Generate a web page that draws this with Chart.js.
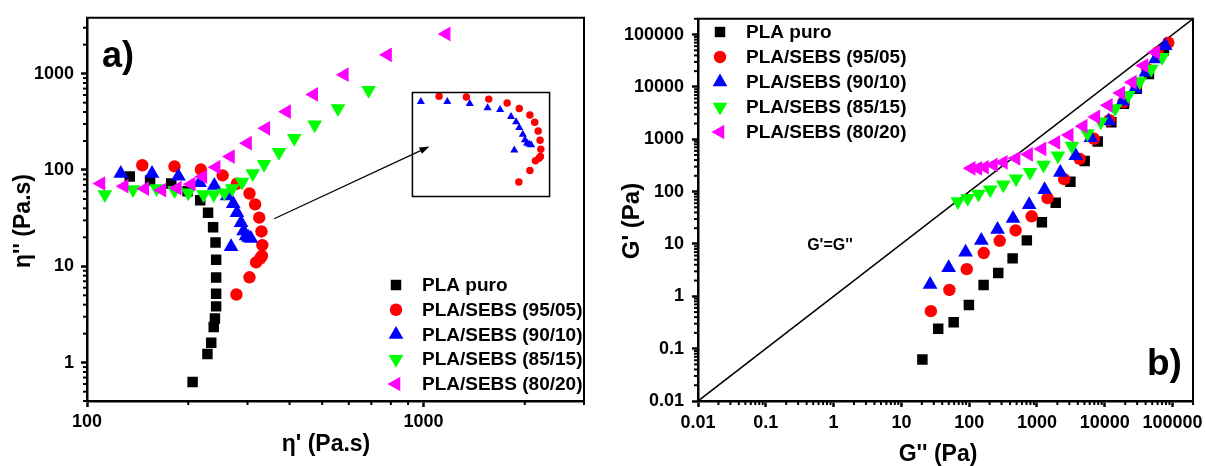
<!DOCTYPE html>
<html>
<head>
<meta charset="utf-8">
<script src="https://cdn.jsdelivr.net/npm/chart.js@4/dist/chart.umd.min.js"></script>
<style>
  html, body { margin: 0; padding: 0; background: #fff; }
  #wrap { position: relative; width: 1206px; height: 466px; overflow: hidden; background: #fff; }
  canvas { position: absolute; top: 0; }
</style>
</head>
<body>
<div id="wrap">
  <canvas id="cA" width="600" height="466" style="left:0px"></canvas>
  <canvas id="cB" width="606" height="466" style="left:600px"></canvas>
  <canvas id="cInset" width="148" height="115" style="left:407px; top:87px"></canvas>
</div>
<script>
// ---- series ----
const seriesLabels = ['PLA puro', 'PLA/SEBS (95/05)', 'PLA/SEBS (90/10)', 'PLA/SEBS (85/15)', 'PLA/SEBS (80/20)'];

// panel a) : eta' (x, Pa.s) and eta'' (y, Pa.s)
const etaP_PLA   = [206, 228, 234, 238, 240, 242, 242, 242, 242, 241, 237, 229, 217, 199, 178, 154, 134];
const etaPP_PLA  = [0.63, 1.23, 1.61, 2.35, 2.87, 3.84, 5.2, 7.65, 11.7, 17.7, 25.5, 36, 48.4, 60.3, 72.4, 77.8, 85.5];
const etaP_9505  = [278, 304, 318, 327, 331, 332, 330, 325, 316, 304, 279, 253, 218, 182, 146];
const etaPP_9505 = [5.1, 7.7, 11.0, 12.0, 12.8, 16.6, 23, 32, 44, 57, 72, 88, 101, 109, 112];
const etaP_9010  = [268, 307, 302, 297, 292, 287, 279, 272, 261, 239, 216, 187, 156, 126];
const etaPP_9010 = [16, 19.4, 19.9, 20.7, 23.3, 28.4, 36, 44.6, 53.6, 69, 73.5, 86, 92, 92];
const etaP_8515  = [113, 137, 161, 182, 200, 222, 238, 256, 270, 289, 311, 336, 372, 413, 475, 557, 687];
const etaPP_8515 = [55.8, 62.8, 64.3, 61.3, 57.9, 55.8, 55.8, 57.9, 64.3, 75.2, 91.8, 115, 153, 214, 294, 436, 674];
const etaP_8020  = [110, 129, 148.5, 167, 185.5, 204, 221, 242, 267, 300, 340, 392, 472, 582, 782, 1168];
const etaPP_8020 = [72.4, 67.9, 64, 61.8, 64.8, 71.2, 85.1, 107, 138, 190, 271, 403, 608, 977, 1570, 2584];

// panel b) : G'' (x, Pa) and G' (y, Pa)
const gPP_PLA  = [20.4, 34.9, 59, 99, 163, 268, 437, 708, 1180, 1890, 3110, 5050, 7870, 12500, 19200, 29600, 44800, 74500];
const gP_PLA   = [0.062, 0.24, 0.32, 0.68, 1.64, 2.8, 5.3, 11.7, 26, 61.5, 154, 385, 908, 2120, 4780, 9200, 17700, 49900];
const gPP_9505 = [27.2, 51, 92, 164, 282, 484, 834, 1430, 2520, 4260, 6920, 11650, 18900, 29150, 42100, 60000, 86500];
const gP_9505  = [0.52, 1.32, 3.3, 6.7, 11.5, 18.1, 33.8, 75, 173, 421, 1020, 2310, 5150, 10670, 22000, 45700, 69800];
const gPP_9010 = [26.5, 49.8, 88.5, 151, 262, 443, 766, 1295, 2210, 3730, 6220, 11370, 18450, 28000, 40500, 56100, 77800];
const gP_9010  = [1.68, 3.53, 6.93, 11.7, 18.9, 30.6, 56.4, 109, 231, 486, 1070, 2240, 5310, 9200, 19100, 34100, 61200];
const gPP_8515 = [68, 95, 137, 204, 319, 491, 789, 1250, 2040, 3270, 5550, 8730, 14150, 22200, 32700, 48400, 70300];
const gP_8515  = [65, 75, 90, 109, 135, 176, 234, 324, 486, 743, 1290, 2150, 3850, 6900, 12700, 22000, 36700];
const gPP_8020 = [107, 134, 168, 228, 319, 491, 752, 1185, 1900, 2990, 4800, 7380, 11300, 17200, 25500, 37800, 56200];
const gP_8020  = [279, 279, 292, 324, 363, 432, 515, 652, 869, 1200, 1780, 2670, 4460, 7620, 12300, 25600, 45700];

// ---- axes ----
const aXRange = [100, 3000];
const aYRange = [0.4, 3800];
const aXTicks = [100, 1000];
const aXTickLabels = ['100', '1000'];
const aYTicks = [1, 10, 100, 1000];
const aYTickLabels = ['1', '10', '100', '1000'];

const bRange = [0.01, 200000];
const bTicks = [0.01, 0.1, 1, 10, 100, 1000, 10000, 100000];
const bTickLabels = ['0.01', '0.1', '1', '10', '100', '1000', '10000', '100000'];

const insetXRange = [117, 358.5];
const insetYRange = [2.94, 132];

// ---- styling ----
const FAMILY = "'Liberation Sans', Arial, Helvetica, sans-serif";
const colors = ['#000000', '#ff0000', '#0000ff', '#00ff00', '#ff00ff'];
const shapes = ['rect', 'circle', 'triangle', 'triangle', 'triangle'];
const rotations = [0, 0, 0, 180, -90];
const radii = [7.4, 6.2, 8.5, 8.5, 8.5];

function pts(xs, ys) { return xs.map((x, k) => ({ x: x, y: ys[k] })); }

function series(xs, ys, i, scale) {
  const r = radii[i] * (scale || 1);
  return {
    label: seriesLabels[i],
    data: pts(xs, ys),
    showLine: false,
    pointStyle: shapes[i],
    pointRotation: rotations[i],
    pointRadius: r,
    pointHoverRadius: r,
    backgroundColor: colors[i],
    pointBackgroundColor: colors[i],
    borderColor: colors[i],
    pointBorderWidth: 0,
    borderWidth: 0,
    order: 5 - i
  };
}

function isMajor(v, majors) { return majors.some(m => Math.abs(m - v) <= m * 1e-9); }

function makeTicks(min, max, majors) {
  const out = [];
  const e0 = Math.floor(Math.log10(min)), e1 = Math.ceil(Math.log10(max));
  for (let e = e0; e <= e1; e++) {
    for (let d = 1; d <= 9; d++) {
      const v = parseFloat((d * Math.pow(10, e)).toPrecision(6));
      if (v >= min * 0.999999 && v <= max * 1.000001) out.push({ value: v, major: isMajor(v, majors) });
    }
  }
  return out;
}

function labeler(majors, labels) {
  return function (v) {
    const i = majors.findIndex(m => Math.abs(m - v) <= m * 1e-9);
    return i < 0 ? '' : labels[i];
  };
}

const majorTickColor = (c) => (c.tick && c.tick.major) ? '#000' : 'rgba(0,0,0,0)';

function logAxis(pos, range, majors, labels, fitSize, pad) {
  return {
    type: 'logarithmic',
    position: pos,
    min: range[0],
    max: range[1],
    afterBuildTicks: (s) => { s.ticks = makeTicks(range[0], range[1], majors); },
    afterFit: (s) => { if (pos === 'bottom') s.height = fitSize; else s.width = fitSize; },
    ticks: {
      autoSkip: false, maxRotation: 0, minRotation: 0, padding: pad,
      color: '#000',
      font: { family: FAMILY, size: 18, weight: 'bold' },
      callback: labeler(majors, labels)
    },
    grid: {
      display: true, drawOnChartArea: false, drawTicks: true,
      tickLength: 6, tickWidth: 2.5, tickColor: majorTickColor
    },
    border: { display: true, width: 2.5, color: '#000' },
    title: { display: false }
  };
}

function drawMarker(ctx, style, r, rotDeg, x, y) {
  ctx.beginPath();
  if (style === 'circle') {
    ctx.arc(x, y, r, 0, 2 * Math.PI);
  } else if (style === 'rect') {
    const s = r * Math.SQRT1_2;
    ctx.rect(x - s, y - s, 2 * s, 2 * s);
  } else {
    let rad = rotDeg * Math.PI / 180;
    for (let k = 0; k < 3; k++) {
      const px = x + Math.sin(rad) * r, py = y - Math.cos(rad) * r;
      if (k) ctx.lineTo(px, py); else ctx.moveTo(px, py);
      rad += 2 * Math.PI / 3;
    }
    ctx.closePath();
  }
  ctx.fill();
}

// frame, minor ticks, legend, arrow and free text
const decor = {
  id: 'decor',
  afterDraw(chart, args, o) {
    const ctx = chart.ctx, a = chart.chartArea;
    ctx.save();
    ctx.strokeStyle = '#000';
    ctx.fillStyle = '#000';
    if (o.frame) {
      ctx.lineWidth = o.frame;
      ctx.beginPath();
      if (o.frameAll) {
        ctx.rect(a.left + o.frame / 2, a.top + o.frame / 2, a.right - a.left - o.frame, a.bottom - a.top - o.frame);
      } else {
        ctx.moveTo(a.left - 1, a.top);
        ctx.lineTo(a.right, a.top);
        ctx.lineTo(a.right, a.bottom + 1);
      }
      ctx.stroke();
    }
    if (o.minorTicks) {
      ctx.lineWidth = 2;
      ['x', 'y'].forEach(id => {
        const s = chart.scales[id];
        if (!s || !s.options.display) return;
        s.ticks.forEach(t => {
          if (t.major) return;
          const p = s.getPixelForValue(t.value);
          ctx.beginPath();
          if (id === 'x') { ctx.moveTo(p, a.bottom); ctx.lineTo(p, a.bottom + o.minorTicks); }
          else { ctx.moveTo(a.left, p); ctx.lineTo(a.left - o.minorTicks, p); }
          ctx.stroke();
        });
      });
    }
    if (o.arrow) {
      const xs = chart.scales.x, ys = chart.scales.y;
      const x1 = xs.getPixelForValue(o.arrow.from[0]), y1 = ys.getPixelForValue(o.arrow.from[1]);
      const x2 = xs.getPixelForValue(o.arrow.to[0]), y2 = ys.getPixelForValue(o.arrow.to[1]);
      const ang = Math.atan2(y2 - y1, x2 - x1);
      const hl = 10, hw = 3.5;
      ctx.lineWidth = 1.2;
      ctx.beginPath();
      ctx.moveTo(x1, y1);
      ctx.lineTo(x2 - Math.cos(ang) * hl * 0.8, y2 - Math.sin(ang) * hl * 0.8);
      ctx.stroke();
      ctx.beginPath();
      ctx.moveTo(x2, y2);
      ctx.lineTo(x2 - Math.cos(ang) * hl - Math.sin(ang) * hw, y2 - Math.sin(ang) * hl + Math.cos(ang) * hw);
      ctx.lineTo(x2 - Math.cos(ang) * hl + Math.sin(ang) * hw, y2 - Math.sin(ang) * hl - Math.cos(ang) * hw);
      ctx.closePath();
      ctx.fill();
    }
    if (o.legend) {
      const L = o.legend;
      chart.data.datasets.filter(d => !d.isGuide).forEach((d, i) => {
        const y = L.y0 + i * L.dy;
        ctx.fillStyle = d.backgroundColor;
        drawMarker(ctx, d.pointStyle, d.pointRadius, d.pointRotation, L.x, y);
        ctx.fillStyle = '#000';
        ctx.font = 'bold ' + L.size + 'px ' + FAMILY;
        ctx.textAlign = 'left';
        ctx.textBaseline = 'middle';
        ctx.fillText(d.label, L.textX, y + 1);
      });
    }
    (o.texts || []).forEach(t => {
      ctx.save();
      ctx.fillStyle = '#000';
      ctx.font = 'bold ' + t.size + 'px ' + FAMILY;
      ctx.textAlign = t.align || 'center';
      ctx.textBaseline = t.baseline || 'middle';
      ctx.translate(t.x, t.y);
      if (t.rotate) ctx.rotate(t.rotate);
      ctx.fillText(t.text, 0, 0);
      ctx.restore();
    });
    ctx.restore();
  }
};

const baseOptions = {
  responsive: false,
  maintainAspectRatio: false,
  devicePixelRatio: 1,
  animation: false,
  events: []
};

// ---- panel a) ----
new Chart(document.getElementById('cA'), {
  type: 'scatter',
  data: {
    datasets: [
      series(etaP_PLA, etaPP_PLA, 0),
      series(etaP_9505, etaPP_9505, 1),
      series(etaP_9010, etaPP_9010, 2),
      series(etaP_8515, etaPP_8515, 3),
      series(etaP_8020, etaPP_8020, 4)
    ]
  },
  options: Object.assign({}, baseOptions, {
    layout: { padding: { left: 0, right: 16, top: 15, bottom: 0 } },
    scales: {
      x: logAxis('bottom', aXRange, aXTicks, aXTickLabels, 65, 4),
      y: logAxis('left', aYRange, aYTicks, aYTickLabels, 87, 7)
    },
    plugins: {
      legend: { display: false },
      tooltip: { enabled: false },
      decor: {
        frame: 2,
        minorTicks: 4,
        arrow: { from: [360, 31.2], to: [1042, 175.5] },
        legend: { x: 396, textX: 422, y0: 285, dy: 24.75, size: 19 },
        texts: [
          { text: 'a)', x: 102, y: 67, size: 36, align: 'left', baseline: 'alphabetic' },
          { text: "η'' (Pa.s)", x: 24, y: 221, size: 23, rotate: -Math.PI / 2 },
          { text: "η' (Pa.s)", x: 326, y: 445, size: 23 }
        ]
      }
    }
  }),
  plugins: [decor]
});

// ---- panel b) ----
new Chart(document.getElementById('cB'), {
  type: 'scatter',
  data: {
    datasets: [
      series(gPP_PLA, gP_PLA, 0),
      series(gPP_9505, gP_9505, 1),
      series(gPP_9010, gP_9010, 2),
      series(gPP_8515, gP_8515, 3),
      series(gPP_8020, gP_8020, 4),
      {
        label: "G'=G''",
        isGuide: true,
        data: [{ x: bRange[0], y: bRange[0] }, { x: bRange[1], y: bRange[1] }],
        showLine: true,
        pointRadius: 0,
        borderColor: '#000',
        borderWidth: 1.6,
        order: 10
      }
    ]
  },
  options: Object.assign({}, baseOptions, {
    layout: { padding: { left: 0, right: 13, top: 15, bottom: 0 } },
    scales: {
      x: logAxis('bottom', bRange, bTicks, bTickLabels, 65, 5),
      y: logAxis('left', bRange, bTicks, bTickLabels, 98, 8)
    },
    plugins: {
      legend: { display: false },
      tooltip: { enabled: false },
      decor: {
        frame: 2,
        minorTicks: 4,
        legend: { x: 120, textX: 146, y0: 32, dy: 25, size: 19 },
        texts: [
          { text: 'b)', x: 547, y: 375, size: 37, align: 'left', baseline: 'alphabetic' },
          { text: "G'=G''", x: 230, y: 246, size: 16 },
          { text: "G' (Pa)", x: 32, y: 221, size: 24, rotate: -Math.PI / 2 },
          { text: "G'' (Pa)", x: 338, y: 455, size: 23 }
        ]
      }
    }
  }),
  plugins: [decor]
});

// ---- inset of panel a): close-up of the 95/05 and 90/10 arcs ----
new Chart(document.getElementById('cInset'), {
  type: 'scatter',
  data: {
    datasets: [
      series(etaP_9505, etaPP_9505, 1, 0.6),
      series(etaP_9010, etaPP_9010, 2, 0.55)
    ]
  },
  options: Object.assign({}, baseOptions, {
    layout: { padding: 0 },
    scales: {
      x: { type: 'logarithmic', display: false, min: insetXRange[0], max: insetXRange[1] },
      y: { type: 'logarithmic', display: false, min: insetYRange[0], max: insetYRange[1] }
    },
    plugins: {
      legend: { display: false },
      tooltip: { enabled: false },
      decor: { frame: 1.5, frameAll: true }
    }
  }),
  plugins: [decor]
});
</script>
</body>
</html>
